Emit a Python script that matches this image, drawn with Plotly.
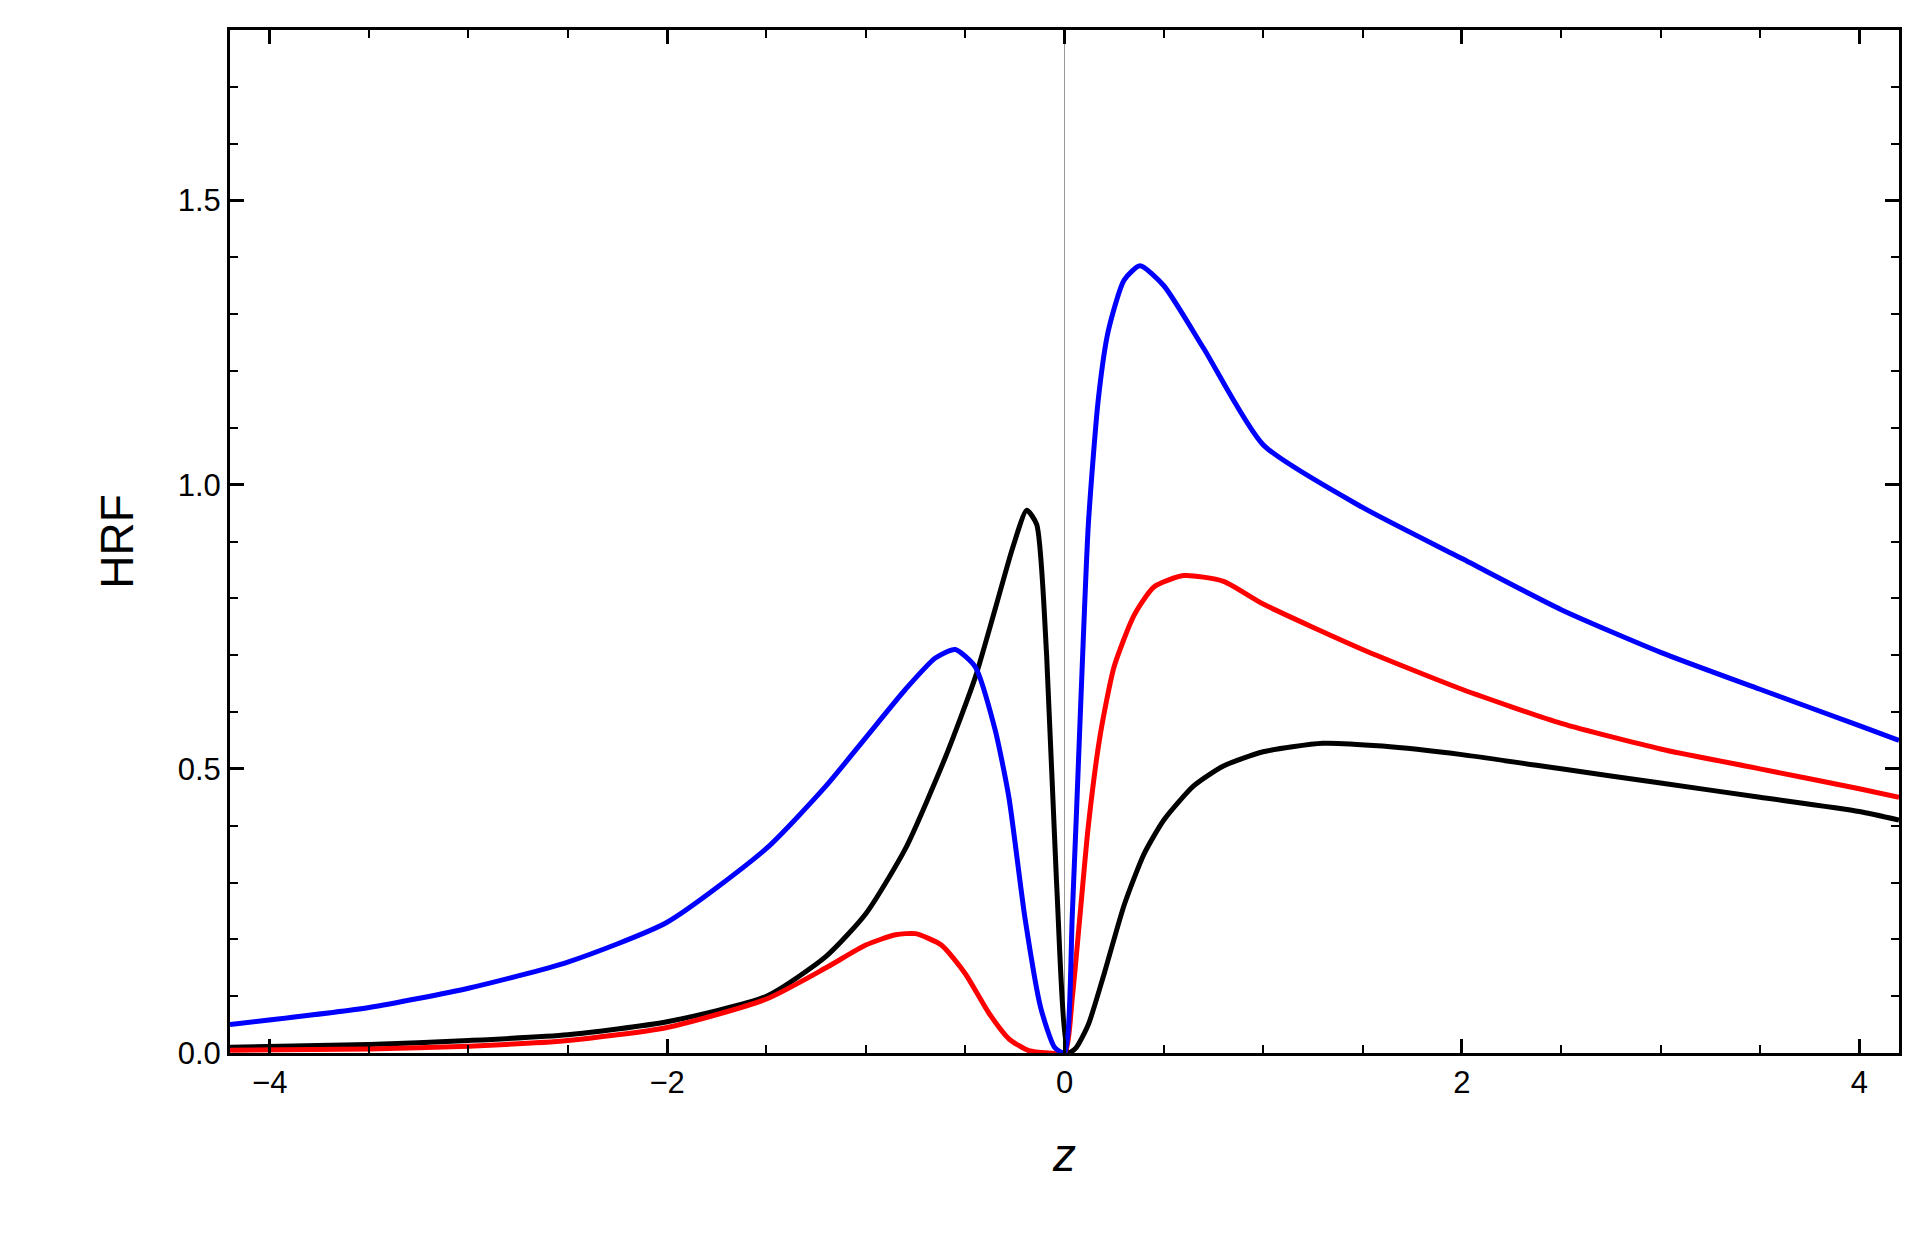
import plotly.graph_objects as go

blue_x = [-4.2,-3.5,-3,-2.5,-2,-1.5,-1.2,-1,-0.8,-0.65,-0.55,-0.45,-0.35,-0.28,-0.2,-0.12,-0.05,0,0.04,0.08,0.12,0.17,0.22,0.3,0.38,0.5,0.7,1,1.5,2,2.5,3,3.5,4,4.2]
blue_y = [0.05,0.08,0.114,0.16,0.23,0.36,0.47,0.555,0.64,0.695,0.71,0.68,0.57,0.45,0.24,0.08,0.01,0.0,0.25,0.6,0.93,1.15,1.27,1.36,1.385,1.35,1.24,1.07,0.96,0.87,0.78,0.705,0.64,0.576,0.55]

red_x = [-4.2,-3.5,-3,-2.5,-2,-1.5,-1.2,-1,-0.85,-0.75,-0.62,-0.5,-0.38,-0.28,-0.18,-0.08,0,0.04,0.08,0.12,0.18,0.25,0.35,0.45,0.6,0.8,1,1.5,2,2.5,3,3.5,4,4.2]
red_y = [0.005,0.007,0.012,0.022,0.045,0.095,0.15,0.19,0.208,0.21,0.19,0.14,0.07,0.025,0.004,0.0,0.0,0.1,0.25,0.4,0.56,0.68,0.77,0.82,0.84,0.83,0.79,0.71,0.64,0.58,0.535,0.5,0.465,0.45]

black_x = [-4.2,-3.5,-3,-2.5,-2,-1.5,-1.2,-1,-0.8,-0.6,-0.45,-0.35,-0.26,-0.19,-0.14,-0.09,-0.04,0.02,0.06,0.12,0.2,0.3,0.4,0.5,0.65,0.8,1,1.3,1.6,2,2.5,3,3.5,4,4.2]
black_y = [0.01,0.015,0.022,0.032,0.055,0.1,0.17,0.245,0.36,0.52,0.66,0.78,0.89,0.955,0.93,0.7,0.3,0.0,0.01,0.05,0.14,0.26,0.35,0.41,0.47,0.505,0.53,0.545,0.54,0.525,0.5,0.475,0.45,0.425,0.41]

fig = go.Figure()
fig.add_shape(type="line", x0=0, x1=0, y0=0, y1=1.8, xref="x", yref="y",
              line=dict(color="#999999", width=1), layer="below")
for xs, ys, c in [(black_x, black_y, "black"), (red_x, red_y, "red"), (blue_x, blue_y, "blue")]:
    fig.add_trace(go.Scatter(x=xs, y=ys, mode="lines", line=dict(color=c, width=5, shape="spline", smoothing=0.6),
                             showlegend=False, cliponaxis=True))

ax = dict(showline=True, linecolor="black", linewidth=3, mirror="allticks", ticks="inside",
          ticklen=14, tickwidth=2.5, tickcolor="black", showgrid=False, zeroline=False,
          tickfont=dict(family="Liberation Sans", size=31, color="black"))
fig.update_xaxes(**ax, range=[-4.2, 4.2], dtick=2, tick0=0,
                 minor=dict(dtick=0.5, ticks="inside", ticklen=8, tickwidth=2, tickcolor="black"),
                 title=dict(text="<i>z</i>", font=dict(family="Liberation Sans", size=46, color="black"), standoff=40))
fig.update_yaxes(**ax, range=[0, 1.8], dtick=0.5, tick0=0, tickformat=".1f",
                 minor=dict(dtick=0.1, ticks="inside", ticklen=8, tickwidth=2, tickcolor="black"),
                 title=dict(text="HRF", font=dict(family="Liberation Sans", size=46, color="black"), standoff=30))
fig.update_layout(width=1913, height=1242, paper_bgcolor="white", plot_bgcolor="white",
                  margin=dict(l=222, r=22, t=22, b=197))
fig.write_html("out.html")
